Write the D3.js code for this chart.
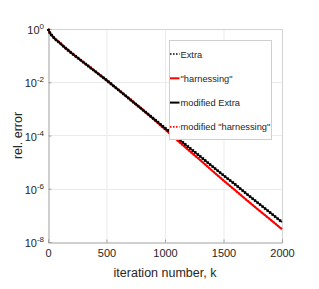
<!DOCTYPE html>
<html>
<head>
<meta charset="utf-8">
<script src="https://cdn.jsdelivr.net/npm/d3@7"></script>
<style>
  body { margin: 0; background: #fff; }
  svg { display: block; font-family: "Liberation Sans", Arial, sans-serif; }
</style>
</head>
<body>
<svg id="chart" width="319" height="289"></svg>
<script>
// values (rel. error vs iteration k)
const iterations = [0, 20, 60, 100, 150, 200, 300, 400, 500, 600, 700, 800, 900, 1000,
  1100, 1200, 1300, 1400, 1500, 1600, 1700, 1800, 1900, 2000];
const extra = [1, 0.661, 0.422, 0.302, 0.191, 0.126, 0.0575, 0.0263, 0.0120, 5.25e-3, 2.29e-3, 1.0e-3, 4.37e-4, 1.91e-4,
  8.5e-5, 3.7e-5, 1.66e-5, 7.2e-6, 3.2e-6, 1.45e-6, 6.3e-7, 2.8e-7, 1.26e-7, 5.6e-8];
const harnessing = [1, 0.661, 0.422, 0.302, 0.191, 0.126, 0.0575, 0.0263, 0.0120, 5.25e-3, 2.29e-3, 1.0e-3, 4.17e-4, 1.70e-4,
  6.9e-5, 2.85e-5, 1.2e-5, 4.9e-6, 2.05e-6, 8.7e-7, 3.7e-7, 1.6e-7, 7.0e-8, 3.0e-8];
const modifiedExtra = extra.slice();
const modifiedHarnessing = harnessing.slice();

const xTicks = [0, 500, 1000, 1500, 2000];
const yTickExps = [0, -2, -4, -6, -8];
const legendLabels = ["Extra", "\"harnessing\"", "modified Extra", "modified \"harnessing\""];

const margin = {left: 48, right: 37, top: 29, bottom: 47};
const W = 319, H = 289;
const svg = d3.select("#chart");

const x = d3.scaleLinear().domain([0, 2000]).range([margin.left, W - margin.right]);
const y = d3.scaleLog().domain([1e-8, 1]).range([H - margin.bottom, margin.top]);

// grid
const grid = svg.append("g").attr("stroke", "#ebebeb").attr("stroke-width", 1);
xTicks.slice(1, -1).forEach(t => {
  grid.append("line").attr("x1", x(t) + 0.5).attr("x2", x(t) + 0.5)
    .attr("y1", y(1)).attr("y2", y(1e-8));
});
yTickExps.slice(1, -1).forEach(e => {
  grid.append("line").attr("y1", Math.round(y(Math.pow(10, e))) + 0.5).attr("y2", Math.round(y(Math.pow(10, e))) + 0.5)
    .attr("x1", x(0)).attr("x2", x(2000));
});

// box
svg.append("line").attr("x1", x(0)).attr("x2", x(2000)).attr("y1", y(1) + 0.5).attr("y2", y(1) + 0.5)
  .attr("stroke", "#d4d4d4");
svg.append("line").attr("x1", x(2000) + 0.5).attr("x2", x(2000) + 0.5).attr("y1", y(1)).attr("y2", y(1e-8))
  .attr("stroke", "#d4d4d4");

// axes
const xAxis = svg.append("g")
  .attr("transform", `translate(0,${y(1e-8) + 0.5})`)
  .call(d3.axisBottom(x).tickValues(xTicks).tickSize(-3).tickPadding(7).tickFormat(d3.format("d")));
const yAxis = svg.append("g")
  .attr("transform", `translate(${x(0) + 0.5},0)`)
  .call(d3.axisLeft(y).tickValues(yTickExps.map(e => Math.pow(10, e))).tickSize(-3).tickFormat(""));

[xAxis, yAxis].forEach(a => {
  a.select(".domain").attr("stroke", "#a0a0a0");
  a.selectAll(".tick line").attr("stroke", "#a0a0a0");
});
xAxis.selectAll(".tick text").attr("fill", "#262626").attr("font-size", 11)
  .attr("font-family", "Liberation Sans, Arial, sans-serif");

// y tick labels 10^e
yTickExps.forEach(e => {
  const t = svg.append("text")
    .attr("x", 44).attr("y", y(Math.pow(10, e)) + 5)
    .attr("text-anchor", "end")
    .attr("fill", "#262626").attr("font-size", 11);
  t.append("tspan").text("10");
  t.append("tspan").attr("dy", -5).attr("font-size", 8).text(String(e));
});

// axis labels
svg.append("text").attr("x", 165).attr("y", 277).attr("text-anchor", "middle")
  .attr("font-size", 12.5).attr("fill", "#262626").text("iteration number, k");
svg.append("text").attr("transform", `translate(22,${(y(1) + y(1e-8)) / 2}) rotate(-90)`)
  .attr("text-anchor", "middle").attr("font-size", 12.5).attr("fill", "#262626").text("rel. error");

// series
const line = d3.line().x(d => x(d[0])).y(d => y(d[1]));
const series = [
  {vals: harnessing, color: "#ff0000", width: 2, dash: null},
  {vals: modifiedHarnessing, color: "#ff0000", width: 2, dash: "1.5,1.5"},
  {vals: modifiedExtra, color: "#000000", width: 1.6, dash: null},
  {vals: extra, color: "#000000", width: 3, dash: "1.6,1.6"}
];
const plot = svg.append("g");
series.forEach(s => {
  plot.append("path")
    .datum(iterations.map((k, i) => [k, s.vals[i]]))
    .attr("d", line)
    .attr("fill", "none")
    .attr("stroke", s.color)
    .attr("stroke-width", s.width)
    .attr("stroke-dasharray", s.dash);
});

// legend
const lg = svg.append("g");
lg.append("rect").attr("x", 169.5).attr("y", 40.5).attr("width", 102).attr("height", 99)
  .attr("fill", "#fff").attr("stroke", "#cfcfcf");
const legendStyles = [
  {color: "#000", dash: "1.5,1.5", width: 1.6},
  {color: "#ff0000", dash: null, width: 2},
  {color: "#000", dash: null, width: 2},
  {color: "#ff0000", dash: "1.5,1.5", width: 1.6}
];
legendLabels.forEach((lab, i) => {
  const yy = 54 + i * 24.3;
  lg.append("line").attr("x1", 170).attr("x2", 179.5).attr("y1", yy).attr("y2", yy)
    .attr("stroke", legendStyles[i].color).attr("stroke-width", legendStyles[i].width)
    .attr("stroke-dasharray", legendStyles[i].dash);
  lg.append("text").attr("x", 180.5).attr("y", yy + 3.5)
    .attr("font-size", 9.3).attr("fill", "#262626").text(lab);
});
</script>
</body>
</html>
